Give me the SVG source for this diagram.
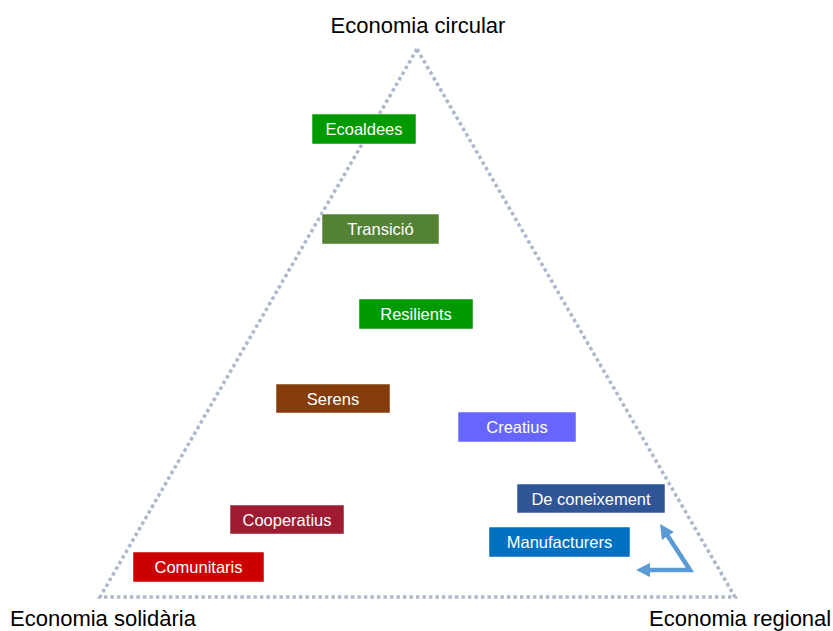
<svg xmlns="http://www.w3.org/2000/svg" width="833" height="631" viewBox="0 0 833 631">
<style>
.lbl{font-family:"Liberation Sans",Arial,sans-serif;font-size:22px;fill:#000}
.bt{font-family:"Liberation Sans",Arial,sans-serif;font-size:16.5px;fill:#fff;text-anchor:middle;dominant-baseline:central}
.box{stroke:#fff;stroke-width:0.5}
</style>
<defs>
<marker id="ah" viewBox="0 0 10 10" refX="5" refY="5" markerWidth="3.2" markerHeight="3.2" orient="auto-start-reverse">
<path d="M0,0 L10,5 L0,10 z" fill="#5B9BD5"/>
</marker>
</defs>
<rect width="833" height="631" fill="#fff"/>
<g id="connectors">
<polygon points="417,49 100,597 735,597" fill="none" stroke="#ADB9CA" stroke-width="3.5" stroke-dasharray="3.5,3"/>
<polyline points="643,570 690,570 664,530" fill="none" stroke="#5B9BD5" stroke-width="4.5" marker-start="url(#ah)" marker-end="url(#ah)"/>
</g>
<text class="lbl" x="418" y="33" text-anchor="middle">Economia circular</text>
<text class="lbl" x="10" y="626">Economia solidària</text>
<text class="lbl" x="649" y="626">Economia regional</text>
<g id="ecoaldees"><rect class="box" x="312" y="114" width="104" height="30" fill="#009900"/><text class="bt" x="364" y="129">Ecoaldees</text></g>
<g id="transicio"><rect class="box" x="322" y="214" width="117" height="30" fill="#548235"/><text class="bt" x="380.5" y="229">Transició</text></g>
<g id="resilients"><rect class="box" x="359" y="299" width="114" height="30" fill="#009900"/><text class="bt" x="416" y="314">Resilients</text></g>
<g id="serens"><rect class="box" x="276" y="384" width="114" height="29" fill="#843C0C"/><text class="bt" x="333" y="398.5">Serens</text></g>
<g id="creatius"><rect class="box" x="458" y="412" width="118" height="30" fill="#6666FF"/><text class="bt" x="517" y="427">Creatius</text></g>
<g id="deconeixement"><rect class="box" x="517" y="484" width="148" height="29" fill="#2F5597"/><text class="bt" x="591" y="498.5">De coneixement</text></g>
<g id="manufacturers"><rect class="box" x="489" y="527" width="141" height="30" fill="#0070C0"/><text class="bt" x="559.5" y="542">Manufacturers</text></g>
<g id="cooperatius"><rect class="box" x="230" y="505" width="114" height="29" fill="#9E1B32"/><text class="bt" x="287" y="519.5">Cooperatius</text></g>
<g id="comunitaris"><rect class="box" x="133" y="552" width="131" height="30" fill="#CC0000"/><text class="bt" x="198.5" y="567">Comunitaris</text></g>
</svg>
